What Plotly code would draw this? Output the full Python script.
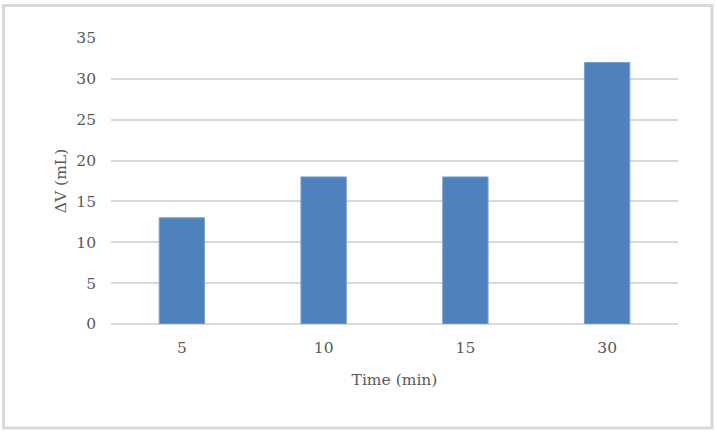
import plotly.graph_objects as go

categories = ["5", "10", "15", "30"]
values = [13, 18, 18, 32]
y_ticks = [0, 5, 10, 15, 20, 25, 30, 35]

W, H = 717, 433
L, R, T, B = 111, 39, 38, 109
pw, ph = W - L - R, H - T - B

def px_to_paper_x(px):
    return (px - L) / pw

def px_to_paper_y(py):
    return (H - B - py) / ph

font = "DejaVu Serif"
gray = "#595959"
fs = 15.5

fig = go.Figure(go.Bar(
    x=categories, y=values,
    marker=dict(color="#4F81BD", line=dict(color="#7A9FD0", width=1)),
))

fig.update_layout(
    width=W, height=H,
    margin=dict(l=L, r=R, t=T, b=B),
    paper_bgcolor="white", plot_bgcolor="white",
    bargap=0.68,
    showlegend=False,
    font=dict(family=font, color=gray, size=fs),
    xaxis=dict(
        type="category", showgrid=False, showline=False, ticks="",
        tickfont=dict(size=fs, color=gray, family=font),
        ticklabelstandoff=12,
        title=dict(text="Time (min)", font=dict(size=fs, color=gray, family=font), standoff=18),
    ),
    yaxis=dict(
        range=[0, 35], tickvals=y_ticks, showgrid=True, gridcolor="#D9D9D9", gridwidth=2,
        zeroline=True, zerolinecolor="#D9D9D9", zerolinewidth=2, showline=False, ticks="",
        ticklabelstandoff=14,
        tickfont=dict(size=fs, color=gray, family=font),
        title=dict(text="ΔV (mL)", font=dict(size=fs, color=gray, family=font), standoff=5),
    ),
    shapes=[dict(
        type="rect", xref="paper", yref="paper",
        x0=px_to_paper_x(3.5), x1=px_to_paper_x(712),
        y0=px_to_paper_y(428), y1=px_to_paper_y(5.5),
        line=dict(color="#D9D9D9", width=3), layer="below",
    )],
)

fig.write_html("out.html", config={"displayModeBar": False},
               post_script="document.body.style.margin='0';document.body.style.overflow='hidden';")
